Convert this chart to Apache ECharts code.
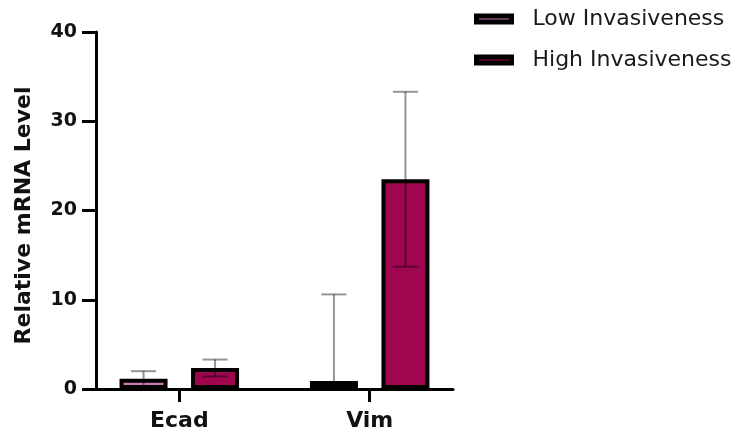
<!DOCTYPE html>
<html>
<head>
<meta charset="utf-8">
<script src="https://cdn.jsdelivr.net/npm/echarts@6/dist/echarts.min.js"></script>
<style>html,body{margin:0;padding:0;background:#fff}#c{width:737px;height:437px}</style>
</head>
<body>
<div id="c"></div>
<script>
// ---- data ----
const categories = ['Ecad', 'Vim'];
const seriesNames = ['Low Invasiveness', 'High Invasiveness'];
const lowMean = [1.15, 0.9];
const lowSD = [0.85, 9.7];
const highMean = [2.35, 23.5];
const highSD = [0.95, 9.8];
const yTicks = [0, 10, 20, 30, 40];

// ---- layout helpers (positions of category slots on a finer band axis) ----
const slotCount = 15;
const slotOf = [3, 11];
const slotLabels = Array.from({length: slotCount}, () => '');
categories.forEach((c, i) => { slotLabels[slotOf[i]] = c; });
function toSlots(vals) {
  const arr = Array.from({length: slotCount}, () => '-');
  vals.forEach((v, i) => { arr[slotOf[i]] = v; });
  return arr;
}
const isLabelSlot = (i) => slotOf.indexOf(i) >= 0;

const barW = 48, gapPct = 49;
const half = (barW + barW * gapPct / 100) / 2;

function errData(mean, sd) {
  return mean.map((m, i) => [slotOf[i], m - sd[i], m + sd[i]]);
}
function errRender(offset) {
  return function (params, api) {
    const x = api.value(0);
    const loVal = api.value(1);
    const lo = api.coord([x, Math.max(loVal, 0)]);
    const hi = api.coord([x, api.value(2)]);
    const cx = lo[0] + offset;
    const cap = 12.5;
    const st = { stroke: 'rgba(0,0,0,0.42)', lineWidth: 2 };
    const children = [
      { type: 'line', shape: { x1: cx, y1: lo[1], x2: cx, y2: hi[1] }, style: st },
      { type: 'line', shape: { x1: cx - cap, y1: hi[1], x2: cx + cap, y2: hi[1] }, style: st }
    ];
    if (loVal >= 0) {
      children.push({ type: 'line', shape: { x1: cx - cap, y1: lo[1], x2: cx + cap, y2: lo[1] }, style: st });
    }
    return { type: 'group', children: children };
  };
}

const colors = ['#c47bb5', '#a0064e'];
const chart = echarts.init(document.getElementById('c'), null, { renderer: 'canvas' });
chart.setOption({
  animation: false,
  backgroundColor: '#fff',
  grid: { left: 96, right: 284, top: 32, bottom: 48, containLabel: false },
  legend: {
    orient: 'vertical',
    left: 474,
    top: 8,
    padding: 0,
    itemWidth: 35,
    itemHeight: 6,
    itemGap: 19,
    icon: 'rect',
    data: seriesNames,
    itemStyle: { borderColor: '#000', borderWidth: 5 },
    textStyle: { fontFamily: 'DejaVu Sans', fontSize: 22, color: '#1a1a1a', lineHeight: 22, padding: [0, 0, 0, 16] }
  },
  xAxis: {
    type: 'category',
    data: slotLabels,
    boundaryGap: true,
    axisLine: { show: true, lineStyle: { color: '#000', width: 3 } },
    axisTick: { show: true, alignWithLabel: true, length: 13, interval: (i) => isLabelSlot(i), lineStyle: { color: '#000', width: 3 } },
    axisLabel: { interval: (i) => isLabelSlot(i), margin: 21, fontFamily: 'DejaVu Sans', fontWeight: 'bold', fontSize: 22, color: '#111' },
    splitLine: { show: false }
  },
  yAxis: {
    type: 'value',
    min: yTicks[0],
    max: yTicks[yTicks.length - 1],
    interval: yTicks[1] - yTicks[0],
    name: 'Relative mRNA Level',
    nameLocation: 'middle',
    nameGap: 61,
    nameTextStyle: { fontFamily: 'DejaVu Sans', fontWeight: 'bold', fontSize: 22, color: '#111', padding: [0, 10, 0, 0] },
    axisLine: { show: true, lineStyle: { color: '#000', width: 3 } },
    axisTick: { show: true, length: 14, lineStyle: { color: '#000', width: 3 } },
    axisLabel: { margin: 19, fontFamily: 'DejaVu Sans', fontWeight: 'bold', fontSize: 19, color: '#111' },
    splitLine: { show: false }
  },
  series: [
    {
      name: seriesNames[0], type: 'bar', data: toSlots(lowMean), barWidth: barW, barGap: gapPct + '%',
      itemStyle: { color: colors[0], borderColor: '#000', borderWidth: 4 }, z: 2
    },
    {
      name: seriesNames[1], type: 'bar', data: toSlots(highMean), barWidth: barW, barGap: gapPct + '%',
      itemStyle: { color: colors[1], borderColor: '#000', borderWidth: 4 }, z: 2
    },
    { type: 'custom', data: errData(lowMean, lowSD), renderItem: errRender(-half), z: 5, silent: true, clip: true },
    { type: 'custom', data: errData(highMean, highSD), renderItem: errRender(half), z: 5, silent: true, clip: true }
  ]
});
</script>
</body>
</html>
